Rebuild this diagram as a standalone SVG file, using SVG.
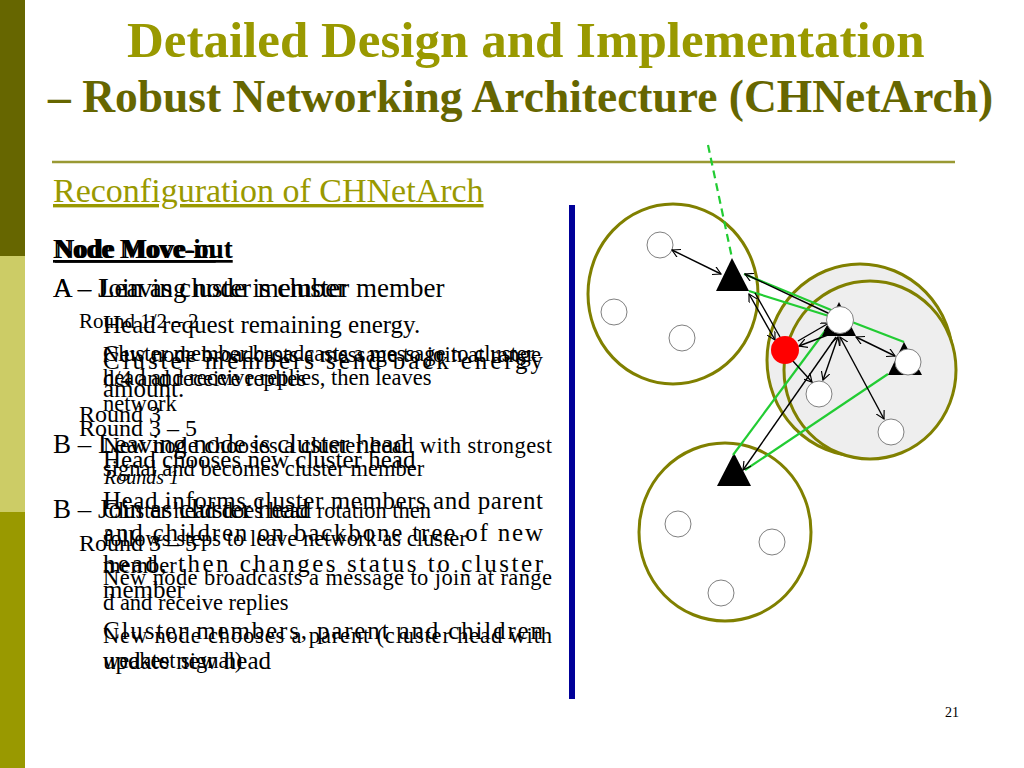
<svg xmlns="http://www.w3.org/2000/svg" width="1024" height="768" viewBox="0 0 1024 768">
<defs>
<marker id="ah" viewBox="0 0 10 10" refX="9" refY="5" markerWidth="9" markerHeight="9" markerUnits="userSpaceOnUse" orient="auto-start-reverse">
<path d="M0,0 L9,5 L0,10" fill="none" stroke="#000" stroke-width="1.3"/>
</marker>
<style>
.t{font-family:"Liberation Serif","Times New Roman",serif;fill:#000}
.h{font-weight:bold;font-size:27px;text-decoration:underline}
.l1{font-size:27px}
.rd{font-size:24px}
.hd{font-size:25px}
.sm{font-size:22.5px}
.cl{fill:#fff;stroke:#808000;stroke-width:3}
.cg{fill:#eeeeee;stroke:#808000;stroke-width:3}
.nd{fill:#fff;stroke:#808080;stroke-width:1}
.nw{fill:#fff;stroke:#808080;stroke-width:1}
.tri{fill:#000}
.ar{stroke:#000;stroke-width:1.4;fill:none}
.gr{stroke:#22cc33;stroke-width:2.2;fill:none}
</style>
</defs>
<rect width="1024" height="768" fill="#fff"/>
<rect x="0" y="0" width="25" height="256" fill="#666600"/>
<rect x="0" y="256" width="25" height="256" fill="#cccc66"/>
<rect x="0" y="512" width="25" height="256" fill="#999900"/>
<g id="title">
<text class="t" x="127" y="57" font-size="51" font-weight="bold" style="fill:#999900">Detailed Design and Implementation</text>
<text class="t" x="48" y="112" font-size="45.5" font-weight="bold" style="fill:#666600">– Robust Networking Architecture (CHNetArch)</text>
</g>
<line x1="52" y1="162" x2="955" y2="162" stroke="#999933" stroke-width="2.5"/>
<text class="t" x="53" y="202" font-size="34" style="fill:#999900" text-decoration="underline">Reconfiguration of CHNetArch</text>
<rect x="569" y="205" width="6" height="494" fill="#000099"/>
<text class="t" x="945" y="717" font-size="14">21</text>

<g id="move-in">
<text class="t h" x="53" y="258">Node Move-in</text>
<text class="t l1" x="53" y="297">A – Join as cluster member</text>
<text class="t" x="79" y="328" font-size="21">Round 1/2 – 2</text>
<text class="t sm" x="103" y="362" textLength="438" lengthAdjust="spacing">New node broadcasts a message to join at range</text>
<text class="t sm" x="103" y="386">d/4 and receive replies</text>
<text class="t rd" x="79" y="422">Round 3</text>
<text class="t sm" x="103" y="453" textLength="449" lengthAdjust="spacing">New node chooses a cluster head with strongest</text>
<text class="t sm" x="103" y="476">signal and becomes cluster member</text>
<text class="t l1" x="53" y="518">B – Join as cluster head</text>
<text class="t rd" x="79" y="551">Round 3 – 5</text>
<text class="t sm" x="103" y="585" textLength="449" lengthAdjust="spacing">New node broadcasts a message to join at range</text>
<text class="t sm" x="103" y="610">d and receive replies</text>
<text class="t sm" x="103" y="643" textLength="449" lengthAdjust="spacing">New node chooses a parent (cluster head with</text>
<text class="t sm" x="103" y="668">weakest signal)</text>
</g>

<g id="move-out">
<text class="t h" x="55" y="258">Node Move-out</text>
<text class="t l1" x="53" y="297">A – Leaving node is cluster member</text>
<text class="t sm" x="103" y="361">Cluster member broadcasts a message to cluster</text>
<text class="t sm" x="103" y="385">head and receive replies, then leaves</text>
<text class="t sm" x="103" y="411">network</text>
<text class="t l1" x="53" y="453">B – Leaving node is cluster head</text>
<text class="t hd" x="103" y="468">Head chooses new cluster head</text>
<text class="t hd" x="103" y="509" textLength="440" lengthAdjust="spacing">Head informs cluster members and parent</text>
<text class="t hd" x="103" y="541" textLength="440" lengthAdjust="spacing">and children on backbone tree of new</text>
<text class="t hd" x="103" y="572" textLength="440" lengthAdjust="spacing">head, then changes status to cluster</text>
<text class="t hd" x="103" y="598">member</text>
<text class="t hd" x="103" y="639" textLength="440" lengthAdjust="spacing">Cluster members, parent and children</text>
<text class="t hd" x="103" y="669">update new head</text>
</g>

<g id="rotation">
<text class="t hd" x="103" y="333">Head request remaining energy.</text>
<text class="t hd" x="103" y="369" textLength="440" lengthAdjust="spacing">Cluster members send back energy</text>
<text class="t hd" x="103" y="397">amount.</text>
<text class="t rd" x="79" y="436">Round 3 – 5</text>
<text class="t" x="104" y="484" font-size="20" font-style="italic">Rounds 1</text>
<text class="t sm" x="103" y="518">Cluster head does head rotation then</text>
<text class="t sm" x="103" y="546">follows steps to leave network as cluster</text>
<text class="t sm" x="103" y="573">member</text>
</g>

<g id="cluster-1">
<ellipse class="cl" cx="673" cy="294" rx="85" ry="90"/>
<circle class="nd" cx="660" cy="245" r="13"/>
<circle class="nd" cx="614" cy="312" r="13"/>
<circle class="nd" cx="682" cy="338" r="13"/>
<polygon class="tri" points="732,258 716,291 749,291"/>
</g>
<g id="cluster-2">
<ellipse class="cg" cx="860" cy="360" rx="93" ry="96"/>
<ellipse class="cg" cx="870" cy="370" rx="86" ry="89"/>
<circle class="nw" cx="819" cy="394" r="13"/>
<circle class="nw" cx="891" cy="432" r="13"/>
</g>
<g id="cluster-3">
<ellipse class="cl" cx="725" cy="532" rx="86" ry="89"/>
<circle class="nd" cx="678" cy="524" r="13"/>
<circle class="nd" cx="772" cy="542" r="13"/>
<circle class="nd" cx="721" cy="593" r="13"/>
<polygon class="tri" points="734,453 717,486 751,486"/>
</g>

<g id="connectors">
<line class="gr" x1="708" y1="145" x2="732" y2="258" stroke-dasharray="8,5"/>
<line class="gr" x1="744" y1="274" x2="836" y2="312"/>
<line class="gr" x1="749" y1="291" x2="832" y2="317"/>
<line class="gr" x1="852" y1="322" x2="904" y2="342"/>
<line class="gr" x1="828" y1="327" x2="733" y2="455"/>
<line class="gr" x1="888" y1="374" x2="745" y2="470"/>
<line class="ar" x1="672" y1="250" x2="721" y2="274" marker-start="url(#ah)" marker-end="url(#ah)"/>
<line class="ar" x1="830" y1="314" x2="745" y2="274" marker-end="url(#ah)"/>
<line class="ar" x1="749" y1="294" x2="775" y2="340" marker-start="url(#ah)" marker-end="url(#ah)"/>
<line class="ar" x1="755" y1="293" x2="780" y2="337"/>
<line class="ar" x1="833" y1="333" x2="799" y2="346" marker-end="url(#ah)"/>
<line class="ar" x1="798" y1="341" x2="829" y2="323" marker-end="url(#ah)"/>
<line class="ar" x1="838" y1="337" x2="823" y2="380" marker-start="url(#ah)" marker-end="url(#ah)"/>
<line class="ar" x1="840" y1="337" x2="884" y2="419" marker-start="url(#ah)" marker-end="url(#ah)"/>
<line class="ar" x1="856" y1="337" x2="895" y2="356" marker-start="url(#ah)" marker-end="url(#ah)"/>
<line class="ar" x1="792" y1="360" x2="812" y2="382" marker-end="url(#ah)"/>
<line class="ar" x1="836" y1="337" x2="743" y2="470" marker-end="url(#ah)"/>
</g>
<g id="nodes-top">
<polygon class="tri" points="839,302 822,336 856,336"/>
<circle class="nw" cx="840" cy="320" r="13.5"/>
<polygon class="tri" points="904,342 888,375 922,375"/>
<circle class="nw" cx="908" cy="362" r="13"/>
<circle cx="785" cy="350" r="14" fill="#ff0000"/>
</g>
</svg>
